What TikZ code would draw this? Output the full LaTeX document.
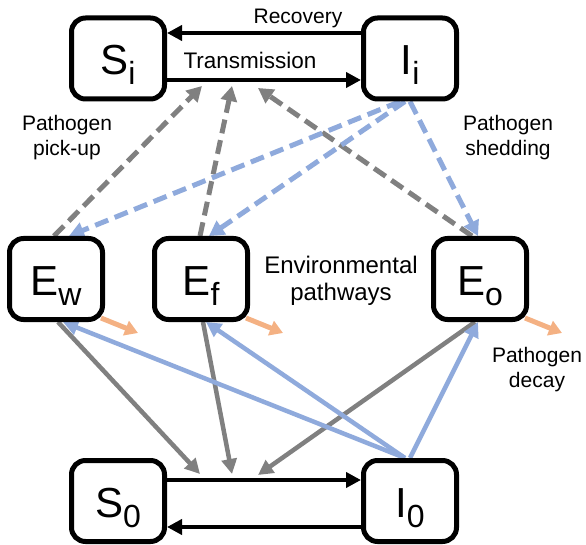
\documentclass[tikz,border=0pt]{standalone}
\usepackage{fontspec}
\setmainfont{Liberation Sans}
\usetikzlibrary{calc,arrows.meta,backgrounds}
\definecolor{cgray}{HTML}{808080}
\definecolor{cblue}{HTML}{8FAADC}
\definecolor{corange}{HTML}{F4B183}
\newcommand\sbs[1]{\raisebox{-10pt}{\fontsize{32}{32}\selectfont #1}}
\begin{document}
\begin{tikzpicture}[x=1pt,y=-1pt,
  box/.style={draw, line width=5pt, rounded corners=14pt, minimum width=93pt,
    minimum height=81pt, fill=white, inner sep=0pt, text height=42pt,
    text depth=10pt, font=\fontsize{42}{42}\selectfont},
  lbl/.style={font=\fontsize{21}{25}\selectfont, align=center, inner sep=0pt},
  flow/.style={line width=4.5pt, -{Triangle[length=15pt,width=15pt]}},
  pick/.style={cgray, line width=5pt, dash pattern=on 14pt off 7pt, -{Triangle[length=15pt,width=16pt]}},
  shed/.style={cblue, line width=5pt, dash pattern=on 14pt off 7pt, -{Triangle[length=15pt,width=16pt]}},
  gflow/.style={cgray, line width=4.5pt, -{Triangle[length=15pt,width=15pt]}},
  bflow/.style={cblue, line width=4.5pt, -{Triangle[length=15pt,width=15pt]}},
  decay/.style={corange, line width=5pt, -{Triangle[length=13pt,width=15pt]}}
]
\useasboundingbox (0,0) rectangle (586,545);
\node[box] (Si) at (118,58.5) {S\sbs{i}};
\node[box] (Ii) at (410,58.5) {I\sbs{i}};
\node[box] (Ew) at (56,279) {E\sbs{w}};
\node[box] (Ef) at (201,279) {E\sbs{f}};
\node[box] (Eo) at (480,279) {E\sbs{o}};
\node[box] (S0) at (118,501) {S\sbs{0}};
\node[box] (I0) at (410,501) {I\sbs{0}};

\node[lbl] (rec) at (298,18) {Recovery};
\node[lbl, font=\fontsize{22.5}{26}\selectfont] (tra) at (250,60) {Transmission};
\node[lbl] (pu) at (67,138) {Pathogen\\pick-up};
\node[lbl] (sh) at (508,138) {Pathogen\\shedding};
\node[lbl, font=\fontsize{24}{27}\selectfont] (env) at (341,281) {Environmental\\pathways};
\node[lbl] (dec) at (537,370) {Pathogen\\decay};

\coordinate (tA) at (202,86);
\coordinate (tB) at (232,86);
\coordinate (tC) at (258,88);
\coordinate (bA) at (200,474);
\coordinate (bB) at (232,474);
\coordinate (bC) at (258,475);

\begin{pgfonlayer}{background}
\draw[flow] ($(Ii.west)+(0,-25.5)$) -- ($(Si.east)+(0,-25.5)$);
\draw[flow] ($(Si.east)+(0,21.5)$) -- ($(Ii.west)+(0,21.5)$);
\draw[flow] ($(S0.east)+(0,-21)$) -- ($(I0.west)+(0,-21)$);
\draw[flow] ($(I0.west)+(0,26)$) -- ($(S0.east)+(0,26)$);

\draw[pick] ($(Ew.north)+(-2,0)$) -- (tA);
\draw[pick] ($(Ef.north)+(-1,0)$) -- (tB);
\draw[pick] ($(Eo.north)+(-8,0)$) -- (tC);

\draw[shed] ($(Ii.south)+(-10,0)$) -- ($(Ew.north)+(13,0)$);
\draw[shed] ($(Ii.south)+(-5,0)$) -- ($(Ef.north)+(8,0)$);
\draw[shed] (Ii.south) -- ($(Eo.north)+(-2,0)$);

\draw[gflow] ($(Ew.south)+(2,0)$) -- (bA);
\draw[gflow] ($(Ef.south)+(2,0)$) -- (bB);
\draw[gflow] ($(Eo.south)+(-5,0)$) -- (bC);

\draw[bflow] ($(I0.north)+(-5,0)$) -- ($(Ew.south)+(7,0)$);
\draw[bflow] ($(I0.north)+(-5,0)$) -- ($(Ef.south)+(5,0)$);
\draw[bflow] (I0.north) -- ($(Eo.south)+(-2,0)$);

\draw[decay] ($(Ew.center)+(45,39)$) -- ($(Ew.center)+(82,54)$);
\draw[decay] ($(Ef.center)+(45,39)$) -- ($(Ef.center)+(82,54)$);
\draw[decay] ($(Eo.center)+(45,39)$) -- ($(Eo.center)+(82,54)$);
\end{pgfonlayer}
\end{tikzpicture}
\end{document}
